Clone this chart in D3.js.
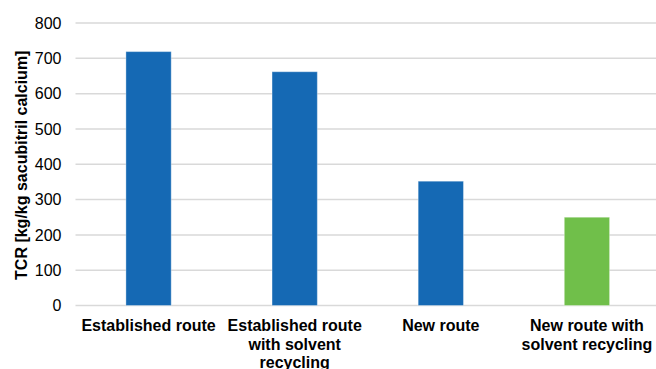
<!DOCTYPE html>
<html>
<head>
<meta charset="utf-8">
<script src="https://cdn.jsdelivr.net/npm/d3@7"></script>
<style>
  html, body { margin: 0; padding: 0; background: #fff; }
  svg { display: block; font-family: "Liberation Sans", Arial, sans-serif; }
</style>
</head>
<body>
<svg id="chart" width="656" height="369"></svg>
<script>
// Total carbon release per route
const categories = ["Established route", "Established route with solvent recycling", "New route", "New route with solvent recycling"];
const values = [719, 662, 352, 250];
const barColors = ["#1569b4", "#1569b4", "#1569b4", "#70bf4a"];
const yTicks = [0, 100, 200, 300, 400, 500, 600, 700, 800];
const yTitle = "TCR [kg/kg sacubitril calcium]";

const svg = d3.select("#chart");
const margin = { left: 75.5, right: -4, top: 23, bottom: 63.5 };
const W = 656, H = 369;

const x = d3.scaleBand()
  .domain(categories)
  .range([margin.left, W - margin.right])
  .paddingInner(0.69)
  .paddingOuter(0.345);

const y = d3.scaleLinear()
  .domain([0, 800])
  .range([H - margin.bottom, margin.top]);

// horizontal gridlines
svg.append("g")
  .selectAll("line")
  .data(yTicks)
  .join("line")
  .attr("x1", margin.left)
  .attr("x2", W)
  .attr("y1", d => y(d))
  .attr("y2", d => y(d))
  .attr("stroke", "#d9d9d9")
  .attr("stroke-width", 1.5);

// y axis tick labels
const yAxis = d3.axisLeft(y).tickValues(yTicks).tickSize(0).tickPadding(14);
const gy = svg.append("g")
  .attr("transform", `translate(${margin.left},0)`)
  .call(yAxis);
gy.select(".domain").remove();
gy.selectAll("text")
  .attr("font-family", "Liberation Sans, Arial, sans-serif")
  .attr("font-size", 16)
  .attr("fill", "#000");

// bars
svg.append("g")
  .selectAll("rect")
  .data(categories)
  .join("rect")
  .attr("x", d => x(d))
  .attr("width", x.bandwidth())
  .attr("y", (d, i) => y(values[i]))
  .attr("height", (d, i) => y(0) - y(values[i]))
  .attr("fill", (d, i) => barColors[i])
  .attr("stroke", "rgba(255,255,255,0.35)")
  .attr("stroke-width", 1);

// category labels, wrapped to the band step
const step = x.step();
const measurer = svg.append("text")
  .attr("font-size", 16).attr("font-weight", "bold").attr("visibility", "hidden");
function wrap(str, maxW) {
  const words = str.split(" ");
  const lines = [];
  let cur = "";
  for (const w of words) {
    const test = cur ? cur + " " + w : w;
    measurer.text(test);
    if (cur && measurer.node().getComputedTextLength() > maxW) {
      lines.push(cur);
      cur = w;
    } else {
      cur = test;
    }
  }
  if (cur) lines.push(cur);
  return lines;
}

const labels = svg.append("g");
categories.forEach(c => {
  const lines = wrap(c, step - 4);
  const t = labels.append("text")
    .attr("text-anchor", "middle")
    .attr("font-size", 16)
    .attr("font-weight", "bold")
    .attr("fill", "#000");
  lines.forEach((ln, j) => {
    t.append("tspan")
      .attr("x", x(c) + x.bandwidth() / 2)
      .attr("y", 331 + j * 18.6)
      .text(ln);
  });
});
measurer.remove();

// y axis title
svg.append("text")
  .attr("transform", `translate(27,${(y(0) + y(800)) / 2 + 1}) rotate(-90)`)
  .attr("text-anchor", "middle")
  .attr("font-size", 16)
  .attr("font-weight", "bold")
  .attr("fill", "#000")
  .text(yTitle);
</script>
</body>
</html>
